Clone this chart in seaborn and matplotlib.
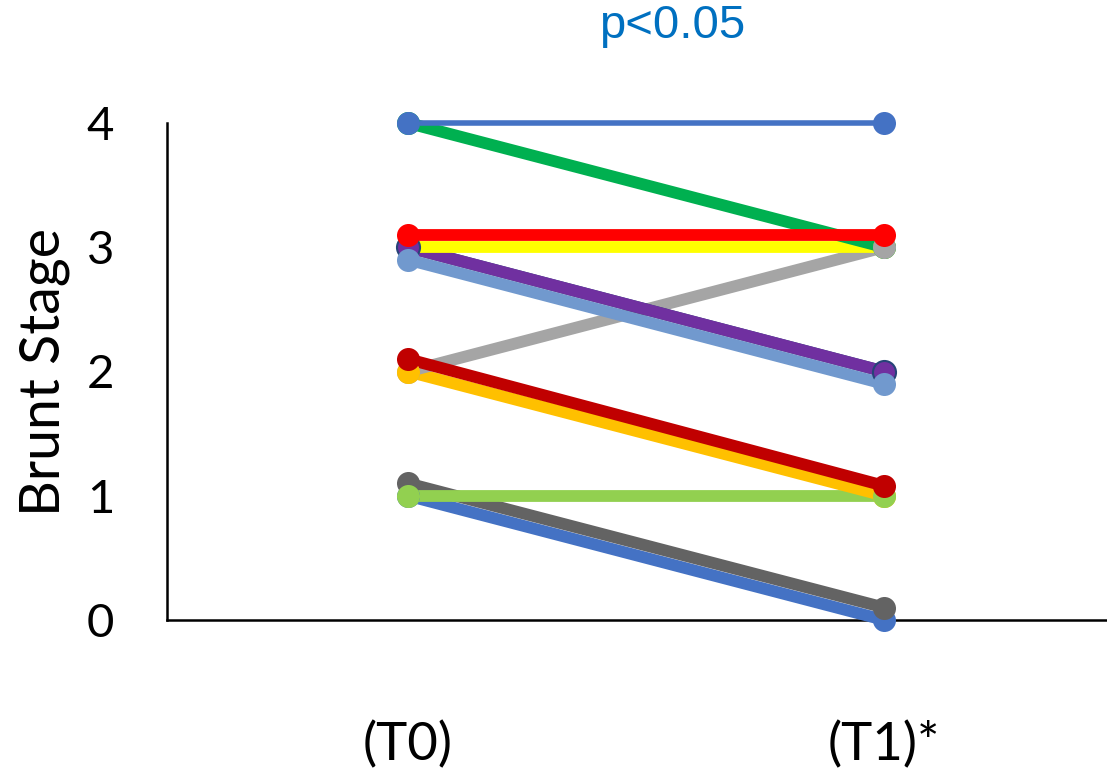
import matplotlib
matplotlib.use("Agg")
import matplotlib.pyplot as plt
import seaborn as sns
import pandas as pd

# ---- data ----
categories = ["(T0)", "(T1)*"]
t0_values = [1.0, 1.1, 1.0, 2.0, 2.0, 2.9, 3.0, 3.0, 2.1, 3.0, 4.0, 3.1, 4.0]
t1_values = [0.0, 0.1, 1.0, 1.0, 3.0, 1.9, 2.0, 2.0, 1.08, 3.0, 3.0, 3.1, 4.0]
colors = ["#4472C4", "#636363", "#92D050", "#FFC000", "#A5A5A5", "#7199CE",
          "#264478", "#7030A0", "#C00000", "#FFFF00", "#00B050", "#FF0000",
          "#4472C4"]
y_ticks = [0, 1, 2, 3, 4]
title_text = "p<0.05"
y_label = "Brunt Stage"

# ---- styling (not data) ----
widths = [8.5] * 12 + [4.0]
marker_order = [0, 1, 9, 10, 6, 7, 5, 4, 3, 2, 8, 11, 12]

sns.set_style("white")
plt.rcParams["font.family"] = ["Lato", "DejaVu Sans"]
plt.rcParams["text.color"] = "black"
plt.rcParams["axes.labelcolor"] = "black"
plt.rcParams["xtick.color"] = "black"
plt.rcParams["ytick.color"] = "black"

rows = []
for i, (a, b) in enumerate(zip(t0_values, t1_values)):
    rows.append({"subject": i, "time": categories[0], "stage": a})
    rows.append({"subject": i, "time": categories[1], "stage": b})
df = pd.DataFrame(rows)

fig = plt.figure(figsize=(11.07, 7.75), dpi=100)
ax = fig.add_axes([167 / 1107, 155 / 775, 1 - 167 / 1107, (620 - 123) / 775])

# lines first
for i in range(len(t0_values)):
    sub = df[df["subject"] == i]
    sns.lineplot(data=sub, x="time", y="stage", ax=ax, color=colors[i],
                 linewidth=widths[i], clip_on=False, zorder=3 + i / 100,
                 sort=False, solid_capstyle="butt")

# markers on top of all lines
for k, i in enumerate(marker_order):
    sub = df[df["subject"] == i]
    edge = "#264478" if i == 7 else colors[i]
    sns.scatterplot(data=sub, x="time", y="stage", ax=ax, color=colors[i],
                    s=275, edgecolor=edge, linewidth=1.5 if i == 7 else 0,
                    clip_on=False, zorder=5 + k / 100)

ax.set_xlim(-0.506, 1.468)
ax.set_ylim(0, 4)
ax.set_yticks(y_ticks)
ax.set_yticklabels([str(t) for t in y_ticks], fontsize=34)
ax.tick_params(axis="y", length=0, pad=38, labelcolor="black")
ax.tick_params(axis="x", length=0, pad=73, labelsize=38, labelcolor="black")
ax.set_xlabel("")
ax.set_ylabel(y_label, fontsize=40, labelpad=12, color="black")

for s in ["top", "right"]:
    ax.spines[s].set_visible(False)
for s in ["left", "bottom"]:
    ax.spines[s].set_linewidth(1.8)
    ax.spines[s].set_color("black")
    ax.spines[s].set_zorder(2)

fig.text(672 / 1107, 1 - 26 / 775, title_text, color="#0070C0", fontsize=34,
         ha="center", va="center", family=["Liberation Sans", "DejaVu Sans"])

fig.savefig("out.png", dpi=100)
